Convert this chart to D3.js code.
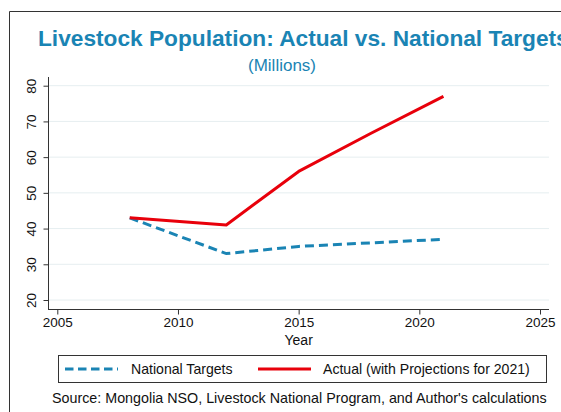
<!DOCTYPE html>
<html>
<head>
<meta charset="utf-8">
<script src="https://cdn.jsdelivr.net/npm/d3@7"></script>
<style>
  html, body { margin: 0; padding: 0; background: #fff; overflow: hidden; }
  svg { display: block; font-family: "Liberation Sans", Arial, sans-serif; }
</style>
</head>
<body>
<svg id="chart"></svg>
<script>
const targetYears = [2008, 2012, 2015, 2018, 2021];
const targetValues = [43, 33, 35, 36, 37];
const actualYears = [2008, 2012, 2015, 2018, 2021];
const actualValues = [43, 41, 56, 66.7, 77];
const xTicks = [2005, 2010, 2015, 2020, 2025];
const yTicks = [20, 30, 40, 50, 60, 70, 80];
const seriesNames = ["National Targets", "Actual (with Projections for 2021)"];

const width = 561, height = 412;
const blue = "#1a84b4", red = "#e8000b";

const svg = d3.select("#chart").attr("width", width).attr("height", height);

// outer frame (clipped on the right and bottom)
svg.append("path")
  .attr("d", `M9.5,${height} V11.5 H${width}`)
  .attr("fill", "none").attr("stroke", "#333").attr("stroke-width", 1);

const x = d3.scaleLinear().domain([2005, 2025]).range([57.3, 540]);
const y = d3.scaleLinear().domain([20, 80]).range([300, 85.7]);

// gridlines
svg.append("g")
  .selectAll("line")
  .data(yTicks)
  .join("line")
  .attr("x1", 49).attr("x2", 549)
  .attr("y1", d => y(d)).attr("y2", d => y(d))
  .attr("stroke", "#e6eef0").attr("stroke-width", 1);

// axes
svg.append("g")
  .attr("transform", "translate(48.5,0)")
  .call(d3.axisLeft(y).tickValues(yTicks).tickSize(5).tickSizeOuter(0))
  .call(g => g.select(".domain").attr("d", "M0,77V309.5").attr("stroke", "#333"))
  .call(g => g.selectAll(".tick line").attr("stroke", "#333"))
  .call(g => g.selectAll(".tick text")
    .attr("transform", "rotate(-90)")
    .attr("x", 0).attr("y", -12.5).attr("dy", 0)
    .attr("text-anchor", "middle")
    .attr("font-size", 13.5).attr("fill", "#111")
    .attr("font-family", "Liberation Sans, Arial, sans-serif"));

svg.append("g")
  .attr("transform", "translate(0,309.5)")
  .call(d3.axisBottom(x).tickValues(xTicks).tickFormat(d3.format("d")).tickSize(5).tickSizeOuter(0))
  .call(g => g.select(".domain").attr("d", "M48,0H549").attr("stroke", "#333"))
  .call(g => g.selectAll(".tick line").attr("stroke", "#333"))
  .call(g => g.selectAll(".tick text")
    .attr("y", 8).attr("dy", "0.71em")
    .attr("font-size", 13.5).attr("fill", "#111")
    .attr("font-family", "Liberation Sans, Arial, sans-serif"));

svg.append("text")
  .attr("x", x(2015)).attr("y", 345)
  .attr("text-anchor", "middle").attr("font-size", 14).attr("fill", "#111")
  .text("Year");

// lines
const line = d3.line().x(d => x(d[0])).y(d => y(d[1]));

svg.append("path")
  .datum(targetYears.map((yr, i) => [yr, targetValues[i]]))
  .attr("d", line)
  .attr("fill", "none").attr("stroke", blue).attr("stroke-width", 3)
  .attr("stroke-dasharray", "9,5");

svg.append("path")
  .datum(actualYears.map((yr, i) => [yr, actualValues[i]]))
  .attr("d", line)
  .attr("fill", "none").attr("stroke", red).attr("stroke-width", 3)
  .attr("stroke-linejoin", "round");

// title
svg.append("text")
  .attr("x", 38).attr("y", 46)
  .attr("font-size", 22.7).attr("font-weight", "bold").attr("fill", blue)
  .text("Livestock Population: Actual vs. National Targets");

svg.append("text")
  .attr("x", 282).attr("y", 70.5)
  .attr("text-anchor", "middle").attr("font-size", 17).attr("fill", blue)
  .text("(Millions)");

// legend
const legend = svg.append("g");
legend.append("rect")
  .attr("x", 58.5).attr("y", 355.5).attr("width", 488).attr("height", 27)
  .attr("fill", "#fff").attr("stroke", "#333");

const legendItems = [
  { name: seriesNames[0], color: blue, dash: "8.5,4.5", x1: 65, x2: 118, tx: 131 },
  { name: seriesNames[1], color: red, dash: null, x1: 258, x2: 311, tx: 323 }
];
legendItems.forEach(it => {
  legend.append("line")
    .attr("x1", it.x1).attr("x2", it.x2).attr("y1", 369).attr("y2", 369)
    .attr("stroke", it.color).attr("stroke-width", 3)
    .attr("stroke-dasharray", it.dash);
  legend.append("text")
    .attr("x", it.tx).attr("y", 374)
    .attr("font-size", 14.1).attr("fill", "#111")
    .text(it.name);
});

svg.append("text")
  .attr("x", 52).attr("y", 402.5)
  .attr("font-size", 14.3).attr("fill", "#111")
  .text("Source: Mongolia NSO, Livestock National Program, and Author's calculations");
</script>
</body>
</html>
